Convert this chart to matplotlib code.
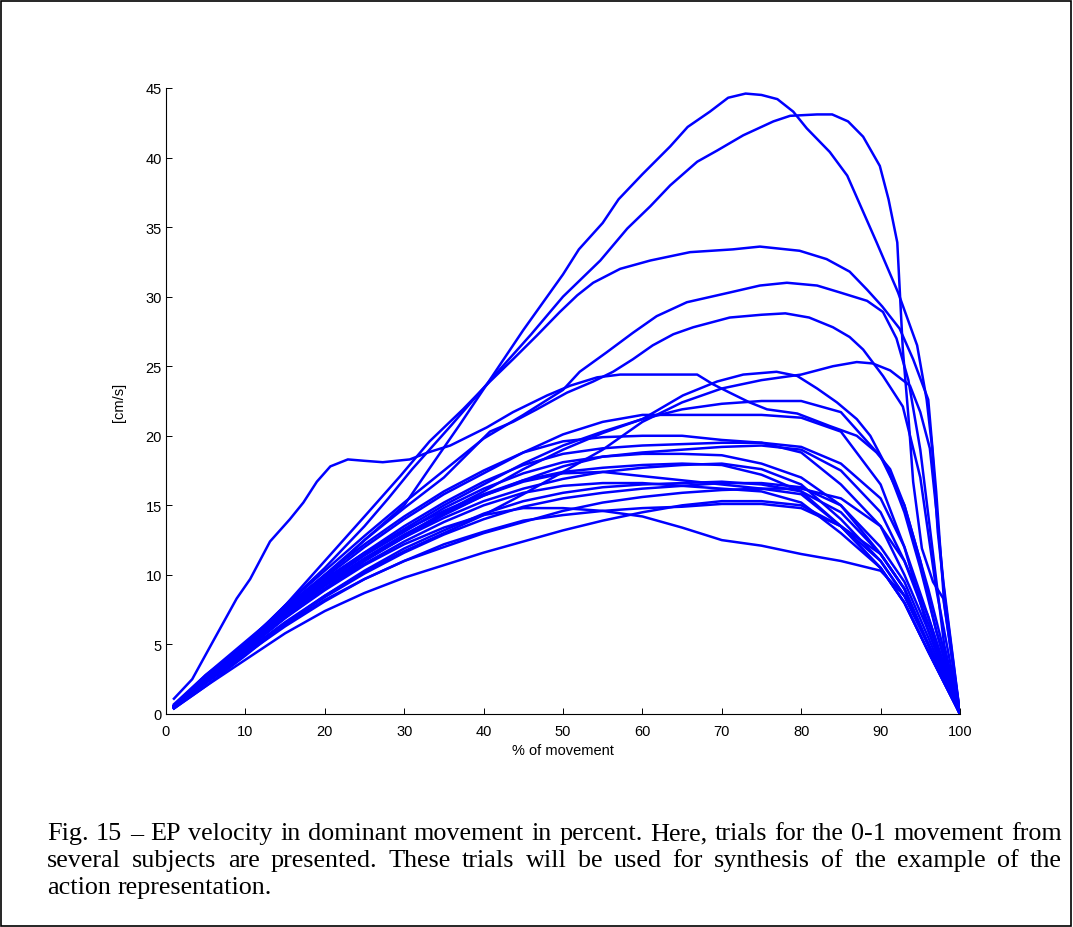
import matplotlib
matplotlib.use("Agg")
import matplotlib.pyplot as plt
from matplotlib.patches import Rectangle

plt.rcParams['font.family'] = ['Liberation Sans', 'DejaVu Sans']

W, H, DPI = 1073, 928, 100

# --- curves with their own x samples (the tall ones) ---
a_x = [1, 5, 10, 15, 20, 25, 30, 33, 37, 41, 45, 50, 52, 55, 57, 60, 63.5, 65.7, 68.5, 70.8, 73, 75, 77,
       79, 80.7, 83.6, 85.8, 89.5, 92.2, 94.6, 95.8, 96.5, 97.2, 98.1, 100]
a_y = [0.6, 2.6, 5.0, 7.3, 9.8, 12.5, 15.0, 17.5, 20.8, 24.2, 27.6, 31.6, 33.4, 35.3, 37.0, 38.8, 40.8, 42.2,
       43.3, 44.3, 44.6, 44.5, 44.2, 43.3, 42.1, 40.4, 38.7, 33.9, 30.3, 26.5, 22.6, 19.1, 13.1, 8.3, 0]

b_x = [1, 5, 10, 15, 20, 25, 28, 31, 36, 41, 46, 50, 54.7, 58.1, 61, 63.5, 66.9, 69.4, 72.7, 76.5, 78.6,
       82, 83.9, 85.9, 87.8, 89.9, 91, 92.1, 92.8, 93.5, 94.1, 95.2, 96.6, 97.9, 100]
b_y = [0.5, 2.5, 5.0, 7.8, 10.5, 13.5, 15.5, 17.6, 20.8, 24.1, 27.3, 30.0, 32.6, 34.9, 36.5, 38.0, 39.7,
       40.5, 41.6, 42.6, 43.0, 43.1, 43.1, 42.6, 41.5, 39.4, 37.0, 33.9, 26.2, 21.4, 16.7, 11.9, 9.5, 8.3, 0]

c_x = [1, 5, 10, 15, 20, 25, 29.5, 33.2, 37.4, 40.8, 43.7, 46.7, 49.6, 51.8, 53.8, 57.2, 61, 66, 71.4,
       74.8, 79.8, 83.2, 86.1, 88.3, 90.2, 92.4, 94.1, 96, 97, 98, 100]
c_y = [0.5, 2.3, 4.8, 7.8, 11.0, 14.2, 17.1, 19.6, 21.9, 23.9, 25.5, 27.2, 28.9, 30.1, 31.0, 32.0, 32.6,
       33.2, 33.4, 33.6, 33.3, 32.7, 31.8, 30.5, 29.3, 27.7, 25.5, 22.6, 16, 8, 0]

d_x = [1, 3.3, 5.9, 8.9, 10.6, 13.1, 15.6, 17.3, 19, 20.7, 22.9, 25, 27.3, 30.7, 33, 35.8, 40.4, 43.7, 48,
       50.9, 54.3, 57.2, 66.9, 68.9, 71, 73.5, 75.7, 79.5, 83.6, 87, 89.5, 91.2, 93, 95, 97, 100]
d_y = [1.1, 2.5, 5.2, 8.3, 9.7, 12.4, 14.0, 15.2, 16.7, 17.8, 18.3, 18.2, 18.1, 18.3, 18.8, 19.3, 20.6,
       21.7, 22.9, 23.6, 24.2, 24.4, 24.4, 23.7, 23.1, 22.4, 21.9, 21.6, 20.7, 20.0, 18.8, 17.6, 15.0, 11.0, 6.0, 0]

e_x = [1, 5, 10, 15, 20, 25, 30, 35, 40, 45, 50, 52.1, 55.5, 58.8, 61.8, 65.6, 71, 74.8, 78.2, 82, 84.9,
       88.3, 90.3, 92, 93.5, 95, 96.5, 98, 100]
e_y = [0.6, 2.8, 5.0, 7.8, 10.3, 12.8, 15.2, 17.5, 19.8, 21.5, 23.3, 24.6, 26.0, 27.4, 28.6, 29.6, 30.3,
       30.8, 31.0, 30.8, 30.3, 29.7, 28.9, 27.0, 24.0, 19.0, 12.0, 5.0, 0]

f_x = [1, 5, 10, 15, 20, 25, 30, 35, 40.8, 43.7, 46.7, 50.5, 53.8, 56.3, 58.8, 61.3, 63.9, 66.4, 71, 75,
       78, 81, 84, 86.1, 87.8, 90.3, 92.8, 95, 97, 100]
f_y = [0.5, 2.5, 4.8, 7.5, 10.0, 12.5, 14.8, 17.0, 20.3, 21.0, 21.9, 23.1, 23.9, 24.6, 25.5, 26.5, 27.3,
       27.8, 28.5, 28.7, 28.8, 28.5, 27.8, 27.1, 26.2, 24.3, 22.1, 17.0, 9.0, 0]

g_x = [1, 5, 10, 15, 20, 25, 30, 35, 40, 45, 50, 55, 60, 65, 70, 75, 80, 84, 87, 89, 91.2, 93.7, 95,
       96.2, 97.1, 97.9, 100]
g_y = [0.4, 2.0, 4.2, 6.5, 8.5, 10.2, 11.7, 13.0, 14.3, 15.8, 17.4, 19.0, 21.0, 22.4, 23.4, 24.0, 24.4,
       25.0, 25.3, 25.2, 24.7, 23.6, 21.7, 19.1, 14.2, 9.5, 0]

h_x = [1, 5, 10, 15, 20, 25, 30, 35, 40, 45, 50, 55, 60, 65.1, 69.4, 72.7, 76.9, 79.5, 82, 84.5, 87,
       88.7, 91, 93, 95, 97, 100]
h_y = [0.5, 2.4, 4.6, 7.0, 9.0, 11.0, 12.8, 14.5, 16.0, 17.6, 19.0, 20.2, 21.2, 22.9, 23.9, 24.4, 24.6,
       24.3, 23.4, 22.4, 21.2, 20.0, 17.5, 14.5, 10.5, 6.0, 0]

# --- the main bundle, sampled on a shared x grid ---
grid_x = [1, 5, 10, 15, 20, 25, 30, 35, 40, 45, 50, 55, 60, 65, 70, 75, 80, 85, 90, 93, 96, 100]
i_y = [0.5, 2.5, 4.8, 7.3, 9.5, 11.5, 13.3, 15.0, 16.5, 18.0, 19.3, 20.3, 21.2, 21.9, 22.3, 22.5, 22.5, 21.7, 18.5, 15.0, 9.0, 0]
j_y = [0.6, 2.6, 5.0, 7.5, 9.8, 12.0, 14.0, 15.8, 17.3, 18.8, 20.1, 21.0, 21.5, 21.5, 21.5, 21.5, 21.3, 20.3, 16.5, 12.0, 6.0, 0]
k_y = [0.6, 2.7, 5.1, 7.7, 10.0, 12.2, 14.2, 16.0, 17.5, 18.8, 19.6, 19.9, 20.0, 20.0, 19.7, 19.5, 18.8, 16.5, 13.5, 10.0, 6.0, 0]
l_y = [0.5, 2.4, 4.6, 6.9, 9.0, 11.0, 12.7, 14.3, 15.7, 16.8, 17.8, 18.5, 18.8, 19.0, 19.2, 19.3, 19.0, 17.5, 14.5, 11.0, 7.0, 0]
m_y = [0.6, 2.6, 4.9, 7.3, 9.4, 11.4, 13.1, 14.8, 16.2, 17.3, 18.1, 18.5, 18.7, 18.7, 18.6, 18.0, 17.0, 15.0, 11.5, 9.0, 5.0, 0]
n_y = [0.7, 2.8, 5.2, 7.6, 9.7, 11.6, 13.2, 14.6, 15.8, 16.8, 17.4, 17.7, 17.9, 18.0, 17.9, 17.2, 16.0, 13.5, 10.5, 8.0, 4.5, 0]
o_y = [0.5, 2.5, 4.8, 7.2, 9.3, 11.2, 12.9, 14.4, 15.7, 16.7, 17.3, 17.4, 17.1, 16.8, 16.5, 16.2, 15.8, 13.5, 10.5, 8.0, 4.5, 0]
p_y = [0.5, 2.3, 4.5, 6.6, 8.5, 10.3, 11.9, 13.2, 14.4, 15.3, 15.9, 16.3, 16.5, 16.6, 16.7, 16.5, 16.0, 14.5, 11.5, 9.0, 5.0, 0]
q_y = [0.6, 2.5, 4.7, 7.0, 9.0, 10.8, 12.4, 13.8, 15.0, 15.9, 16.4, 16.6, 16.6, 16.4, 16.2, 16.0, 15.2, 13.0, 10.5, 8.0, 4.5, 0]
r_y = [0.4, 2.2, 4.3, 6.3, 8.1, 9.7, 11.0, 12.0, 13.0, 13.8, 14.6, 15.2, 15.6, 15.9, 16.1, 16.2, 16.2, 15.5, 13.5, 11.0, 6.5, 0]
s_y = [0.5, 2.3, 4.4, 6.4, 8.2, 9.7, 11.0, 12.2, 13.1, 13.9, 14.3, 14.6, 14.8, 14.9, 15.1, 15.1, 14.8, 13.5, 11.5, 9.0, 5.0, 0]
u_y = [0.5, 2.4, 4.6, 6.9, 8.9, 10.7, 12.2, 13.4, 14.3, 14.8, 14.8, 14.6, 14.2, 13.4, 12.5, 12.1, 11.5, 11.0, 10.3, 8.5, 5.0, 0]
v_y = [0.4, 2.0, 3.9, 5.8, 7.4, 8.7, 9.8, 10.7, 11.6, 12.4, 13.2, 13.9, 14.5, 15.0, 15.3, 15.3, 15.0, 13.5, 11.0, 8.5, 5.0, 0]
w_y = [0.5, 2.5, 4.8, 7.1, 9.2, 11.1, 12.7, 14.1, 15.3, 16.2, 16.9, 17.4, 17.7, 17.9, 18.0, 17.6, 16.5, 14.0, 11.0, 8.5, 5.0, 0]
x_y = [0.6, 2.6, 5.0, 7.4, 9.6, 11.6, 13.5, 15.2, 16.7, 17.9, 18.7, 19.1, 19.3, 19.4, 19.5, 19.5, 19.2, 18.0, 15.5, 12.0, 7.0, 0]
y_y = [0.5, 2.3, 4.4, 6.5, 8.4, 10.1, 11.6, 12.9, 14.0, 14.9, 15.5, 15.9, 16.2, 16.4, 16.6, 16.6, 16.3, 15.0, 12.0, 9.5, 5.5, 0]

x_ticks = list(range(0, 101, 10))
y_ticks = list(range(0, 46, 5))

caption_lines = [
    "Fig. 15 \u2013 EP velocity in dominant movement in percent. Here, trials for the 0-1 movement from",
    "several subjects are presented. These trials will be used for synthesis of the example of the",
    "action representation.",
]

fig = plt.figure(figsize=(W / DPI, H / DPI), dpi=DPI)
ax = fig.add_axes([166 / W, 1 - 715 / H, 794 / W, 626 / H])

for xs, ys in [(a_x, a_y), (b_x, b_y), (c_x, c_y), (d_x, d_y), (e_x, e_y), (f_x, f_y), (g_x, g_y), (h_x, h_y)]:
    ax.plot(xs, ys, color='#0000ff', lw=1.8, solid_joinstyle='round')
for ys in [i_y, j_y, k_y, l_y, m_y, n_y, o_y, p_y, q_y, r_y, s_y, u_y, v_y, w_y, x_y, y_y]:
    ax.plot(grid_x, ys, color='#0000ff', lw=1.8, solid_joinstyle='round')

ax.set_xlim(0, 100)
ax.set_ylim(0, 45)
ax.set_xticks(x_ticks)
ax.set_yticks(y_ticks)
ax.tick_params(direction='in', length=4, width=0.7, labelsize=10.5)
ax.tick_params(axis='x', pad=7.5)
ax.tick_params(axis='y', pad=3)
for side in ['top', 'right']:
    ax.spines[side].set_visible(False)
for side in ['left', 'bottom']:
    ax.spines[side].set_linewidth(0.8)
ax.set_xlabel('% of movement', fontsize=10.5, labelpad=3)
ax.set_ylabel('[cm/s]', fontsize=10.5, labelpad=14)

# frame round the whole figure
fig.patches.append(Rectangle((1 / W, 1 / H), 1 - 3 / W, 1 - 3 / H, transform=fig.transFigure,
                             fill=False, edgecolor='black', lw=1.2))

# justified caption: pick the largest size that still lets the first line fit
renderer = fig.canvas.get_renderer()
x0, x1 = 47, 1062
line_y = [840, 867, 894]
serif = ['Liberation Serif', 'DejaVu Serif']
probe = fig.text(0, 0, caption_lines[0], fontsize=16, family=serif)
natural = probe.get_window_extent(renderer).width
probe.remove()
cap_size = min(19.5, 16 * (x1 - x0) * 0.985 / natural)

for k, line in enumerate(caption_lines):
    words = line.split(' ')
    texts = [fig.text(0, 1 - line_y[k] / H, w, fontsize=cap_size, family=serif) for w in words]
    widths = [t.get_window_extent(renderer).width for t in texts]
    if k < len(caption_lines) - 1:
        gap = (x1 - x0 - sum(widths)) / (len(words) - 1)
    else:
        gap = cap_size * DPI / 72 * 0.25
    pos = x0
    for t, wd in zip(texts, widths):
        t.set_x(pos / W)
        pos += wd + gap

fig.savefig('out.png', dpi=DPI)
